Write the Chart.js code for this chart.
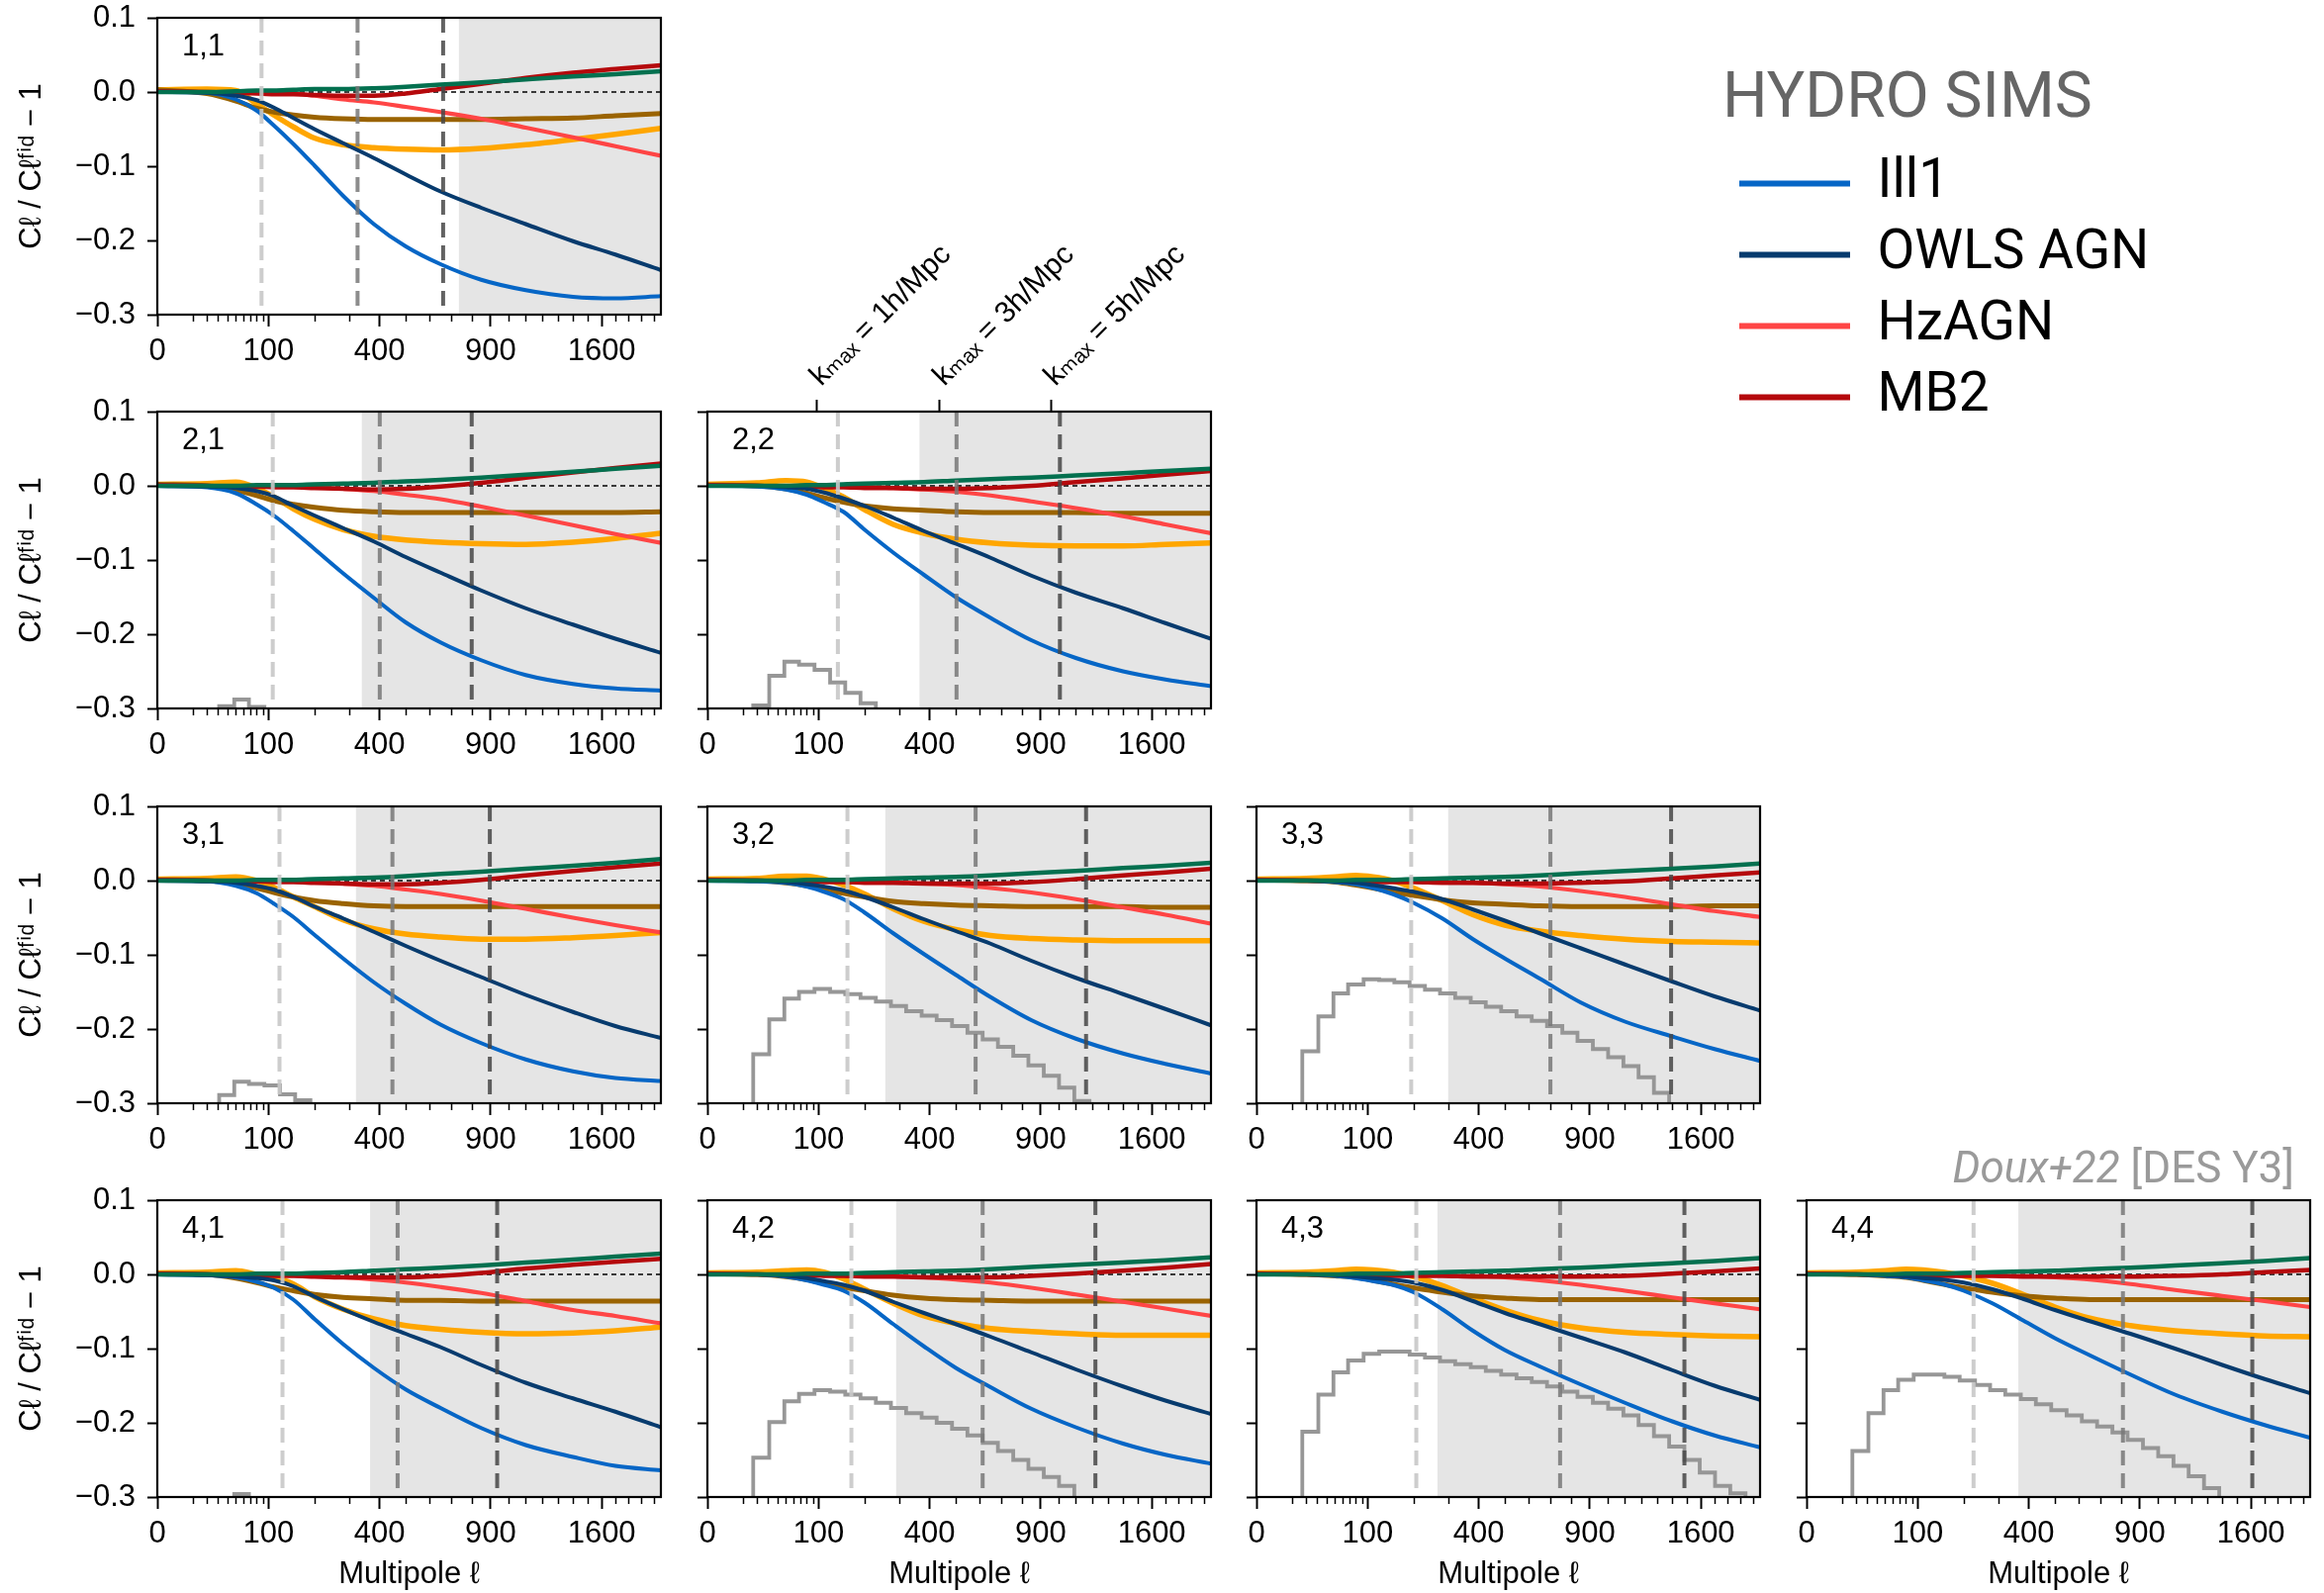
<!DOCTYPE html>
<html>
<head>
<meta charset="utf-8">
<script src="https://cdn.jsdelivr.net/npm/chart.js"></script>
<style>
  html, body { margin: 0; padding: 0; background: #fff; }
  body { width: 2349px; height: 1610px; position: relative; overflow: hidden; }
  canvas { position: absolute; }
</style>
</head>
<body>
<script>
// ---- data ----
const PANELS = ['1,1', '2,1', '2,2', '3,1', '3,2', '3,3', '4,1', '4,2', '4,3', '4,4'];
const ELL = [0, 20, 50, 80, 110, 150, 200, 280, 380, 500, 650, 850, 1100, 1400, 1700, 2055];

const ILL1 = [
  [0, -0.001, -0.010, -0.025, -0.045, -0.070, -0.099, -0.140, -0.178, -0.208, -0.232, -0.253, -0.267, -0.276, -0.278, -0.275],
  [0, -0.002, -0.010, -0.025, -0.040, -0.061, -0.085, -0.118, -0.151, -0.184, -0.211, -0.235, -0.255, -0.267, -0.273, -0.276],
  [0, -0.001, -0.005, -0.012, -0.022, -0.035, -0.059, -0.090, -0.120, -0.150, -0.178, -0.208, -0.232, -0.250, -0.261, -0.270],
  [0, -0.001, -0.007, -0.017, -0.031, -0.049, -0.073, -0.105, -0.137, -0.166, -0.194, -0.219, -0.241, -0.257, -0.266, -0.270],
  [0, -0.001, -0.003, -0.008, -0.015, -0.025, -0.043, -0.071, -0.099, -0.127, -0.157, -0.188, -0.213, -0.233, -0.247, -0.260],
  [0, 0, -0.002, -0.005, -0.010, -0.018, -0.030, -0.051, -0.079, -0.105, -0.132, -0.164, -0.190, -0.210, -0.227, -0.243],
  [0, -0.001, -0.004, -0.010, -0.018, -0.034, -0.060, -0.094, -0.126, -0.155, -0.180, -0.207, -0.230, -0.246, -0.258, -0.264],
  [0, 0, -0.003, -0.008, -0.014, -0.022, -0.038, -0.067, -0.097, -0.126, -0.152, -0.181, -0.206, -0.228, -0.243, -0.255],
  [0, 0, -0.002, -0.005, -0.009, -0.014, -0.024, -0.047, -0.076, -0.102, -0.124, -0.148, -0.173, -0.198, -0.217, -0.233],
  [0, 0, -0.002, -0.004, -0.008, -0.013, -0.022, -0.039, -0.062, -0.086, -0.109, -0.135, -0.162, -0.185, -0.203, -0.220]
];
const OWLS_AGN = [
  [0, -0.001, -0.005, -0.011, -0.021, -0.035, -0.050, -0.069, -0.089, -0.111, -0.134, -0.156, -0.178, -0.201, -0.219, -0.240],
  [0, -0.001, -0.003, -0.007, -0.014, -0.027, -0.040, -0.057, -0.075, -0.096, -0.117, -0.141, -0.165, -0.187, -0.206, -0.225],
  [0, 0, -0.002, -0.004, -0.009, -0.017, -0.027, -0.043, -0.061, -0.078, -0.097, -0.121, -0.144, -0.165, -0.185, -0.206],
  [0, -0.001, -0.003, -0.007, -0.012, -0.022, -0.035, -0.051, -0.069, -0.088, -0.108, -0.130, -0.154, -0.177, -0.196, -0.212],
  [0, 0, -0.002, -0.005, -0.008, -0.013, -0.022, -0.036, -0.052, -0.068, -0.085, -0.108, -0.131, -0.153, -0.173, -0.195],
  [0, 0, -0.001, -0.003, -0.006, -0.010, -0.015, -0.025, -0.039, -0.054, -0.071, -0.091, -0.113, -0.136, -0.156, -0.175],
  [0, -0.001, -0.003, -0.005, -0.008, -0.016, -0.030, -0.047, -0.064, -0.080, -0.098, -0.122, -0.146, -0.167, -0.185, -0.206],
  [0, 0, -0.002, -0.005, -0.009, -0.014, -0.022, -0.037, -0.052, -0.067, -0.084, -0.105, -0.128, -0.151, -0.170, -0.188],
  [0, 0, -0.001, -0.003, -0.005, -0.007, -0.011, -0.021, -0.036, -0.052, -0.067, -0.085, -0.105, -0.129, -0.150, -0.169],
  [0, 0, -0.001, -0.003, -0.005, -0.007, -0.011, -0.020, -0.033, -0.048, -0.063, -0.080, -0.100, -0.122, -0.141, -0.160]
];
const HZAGN = [
  [0, 0, 0, 0, -0.001, -0.002, -0.005, -0.010, -0.014, -0.020, -0.027, -0.036, -0.048, -0.061, -0.073, -0.086],
  [0, 0, 0, 0, 0, -0.001, -0.002, -0.004, -0.007, -0.012, -0.018, -0.028, -0.040, -0.053, -0.065, -0.077],
  [0, 0, 0, 0, 0, -0.001, -0.001, -0.003, -0.005, -0.008, -0.013, -0.021, -0.030, -0.041, -0.052, -0.064],
  [0, 0, 0, 0, 0, -0.001, -0.002, -0.004, -0.007, -0.012, -0.018, -0.027, -0.038, -0.050, -0.060, -0.070],
  [0, 0, 0, 0, 0, 0, -0.001, -0.002, -0.004, -0.006, -0.010, -0.016, -0.025, -0.036, -0.046, -0.058],
  [0, 0, 0, 0, 0, 0, -0.001, -0.002, -0.003, -0.005, -0.008, -0.014, -0.022, -0.032, -0.041, -0.049],
  [0, 0, 0, 0, 0, -0.001, -0.002, -0.004, -0.007, -0.011, -0.017, -0.025, -0.036, -0.048, -0.056, -0.066],
  [0, 0, 0, 0, 0, 0, -0.001, -0.002, -0.004, -0.007, -0.011, -0.018, -0.027, -0.037, -0.046, -0.056],
  [0, 0, 0, 0, 0, 0, 0, -0.001, -0.002, -0.004, -0.008, -0.014, -0.022, -0.031, -0.039, -0.047],
  [0, 0, 0, 0, 0, 0, 0, -0.001, -0.002, -0.004, -0.007, -0.013, -0.021, -0.029, -0.036, -0.044]
];
const MB2 = [
  [0.001, 0, -0.001, -0.002, -0.003, -0.003, -0.004, -0.005, -0.005, -0.002, 0.004, 0.011, 0.019, 0.026, 0.031, 0.036],
  [0.001, 0, -0.001, -0.001, -0.002, -0.002, -0.003, -0.004, -0.005, -0.004, -0.001, 0.004, 0.011, 0.018, 0.024, 0.030],
  [0.001, 0, -0.001, -0.001, -0.002, -0.002, -0.003, -0.003, -0.004, -0.004, -0.003, 0.000, 0.005, 0.010, 0.015, 0.020],
  [0.001, 0, -0.001, -0.001, -0.002, -0.002, -0.003, -0.004, -0.005, -0.005, -0.003, 0.001, 0.007, 0.013, 0.018, 0.023],
  [0.001, 0, -0.001, -0.001, -0.002, -0.002, -0.003, -0.003, -0.004, -0.004, -0.004, -0.002, 0.002, 0.007, 0.011, 0.016],
  [0.001, 0, -0.001, -0.001, -0.002, -0.002, -0.002, -0.003, -0.003, -0.004, -0.004, -0.003, -0.001, 0.003, 0.007, 0.011],
  [0.001, 0, -0.001, -0.001, -0.002, -0.002, -0.003, -0.004, -0.004, -0.004, -0.002, 0.002, 0.008, 0.013, 0.017, 0.021],
  [0.001, 0, -0.001, -0.001, -0.002, -0.002, -0.003, -0.003, -0.004, -0.004, -0.004, -0.002, 0.001, 0.005, 0.009, 0.014],
  [0.001, 0, -0.001, -0.001, -0.001, -0.002, -0.002, -0.002, -0.003, -0.003, -0.003, -0.003, -0.002, 0.001, 0.004, 0.008],
  [0.001, 0, -0.001, -0.001, -0.001, -0.002, -0.002, -0.002, -0.003, -0.003, -0.003, -0.003, -0.002, 0.000, 0.003, 0.006]
];
const GREEN_SIM = [
  [0, 0, 0.001, 0.002, 0.002, 0.003, 0.004, 0.004, 0.005, 0.007, 0.010, 0.013, 0.017, 0.021, 0.024, 0.028],
  [0, 0, 0, 0.001, 0.001, 0.001, 0.002, 0.003, 0.004, 0.006, 0.008, 0.011, 0.015, 0.019, 0.023, 0.027],
  [0, 0, 0, 0.001, 0.001, 0.002, 0.003, 0.004, 0.005, 0.007, 0.009, 0.011, 0.014, 0.017, 0.020, 0.023],
  [0, 0, 0, 0.001, 0.001, 0.001, 0.002, 0.003, 0.004, 0.006, 0.009, 0.012, 0.016, 0.020, 0.024, 0.029],
  [0, 0, 0, 0.001, 0.001, 0.001, 0.002, 0.003, 0.004, 0.005, 0.007, 0.010, 0.013, 0.017, 0.020, 0.024],
  [0, 0, 0, 0.001, 0.001, 0.001, 0.002, 0.003, 0.004, 0.005, 0.007, 0.010, 0.013, 0.016, 0.019, 0.023],
  [0, 0, 0, 0.001, 0.001, 0.001, 0.002, 0.003, 0.005, 0.007, 0.009, 0.012, 0.016, 0.020, 0.024, 0.028],
  [0, 0, 0, 0.001, 0.001, 0.001, 0.002, 0.003, 0.004, 0.005, 0.007, 0.010, 0.013, 0.016, 0.019, 0.023],
  [0, 0, 0, 0.001, 0.001, 0.001, 0.002, 0.003, 0.004, 0.005, 0.007, 0.009, 0.012, 0.015, 0.018, 0.022],
  [0, 0, 0, 0.001, 0.001, 0.001, 0.002, 0.003, 0.004, 0.005, 0.007, 0.009, 0.012, 0.015, 0.018, 0.022]
];
const ORANGE_SIM = [
  [0.003, 0.004, 0.002, -0.016, -0.031, -0.047, -0.062, -0.071, -0.075, -0.077, -0.078, -0.076, -0.071, -0.064, -0.057, -0.049],
  [0.002, 0.003, 0.005, -0.003, -0.015, -0.031, -0.045, -0.059, -0.068, -0.073, -0.076, -0.078, -0.079, -0.076, -0.071, -0.064],
  [0.002, 0.004, 0.007, 0.005, -0.003, -0.015, -0.032, -0.052, -0.064, -0.072, -0.077, -0.080, -0.081, -0.081, -0.079, -0.077],
  [0.002, 0.003, 0.005, 0.000, -0.009, -0.022, -0.035, -0.053, -0.065, -0.072, -0.076, -0.079, -0.079, -0.077, -0.074, -0.070],
  [0.002, 0.003, 0.006, 0.006, 0.002, -0.006, -0.018, -0.038, -0.055, -0.066, -0.074, -0.078, -0.080, -0.081, -0.081, -0.081],
  [0.002, 0.003, 0.005, 0.007, 0.005, 0.000, -0.010, -0.027, -0.046, -0.060, -0.068, -0.074, -0.079, -0.082, -0.083, -0.084],
  [0.002, 0.003, 0.005, 0.000, -0.004, -0.013, -0.030, -0.047, -0.060, -0.069, -0.074, -0.078, -0.080, -0.079, -0.076, -0.071],
  [0.002, 0.003, 0.005, 0.006, 0.003, -0.006, -0.020, -0.039, -0.056, -0.066, -0.073, -0.077, -0.080, -0.082, -0.082, -0.082],
  [0.002, 0.003, 0.005, 0.007, 0.006, 0.003, -0.003, -0.015, -0.032, -0.048, -0.062, -0.072, -0.078, -0.081, -0.083, -0.084],
  [0.002, 0.003, 0.005, 0.007, 0.006, 0.003, -0.002, -0.012, -0.027, -0.044, -0.059, -0.069, -0.076, -0.080, -0.083, -0.084]
];
const BROWN_SIM = [
  [0.003, -0.002, -0.012, -0.022, -0.027, -0.031, -0.034, -0.036, -0.037, -0.037, -0.037, -0.037, -0.036, -0.035, -0.032, -0.029],
  [0.002, 0.000, -0.006, -0.013, -0.020, -0.025, -0.029, -0.033, -0.035, -0.036, -0.036, -0.036, -0.036, -0.036, -0.036, -0.035],
  [0.001, 0.000, -0.004, -0.010, -0.016, -0.022, -0.027, -0.031, -0.033, -0.035, -0.036, -0.036, -0.036, -0.037, -0.037, -0.037],
  [0.001, 0.000, -0.004, -0.010, -0.016, -0.022, -0.027, -0.031, -0.034, -0.035, -0.035, -0.035, -0.035, -0.035, -0.035, -0.035],
  [0.001, 0.000, -0.003, -0.007, -0.012, -0.017, -0.022, -0.028, -0.031, -0.033, -0.034, -0.035, -0.035, -0.035, -0.036, -0.036],
  [0.001, 0.000, -0.002, -0.006, -0.010, -0.015, -0.020, -0.026, -0.030, -0.032, -0.034, -0.035, -0.035, -0.035, -0.034, -0.034],
  [0.001, 0.000, -0.005, -0.011, -0.017, -0.022, -0.027, -0.031, -0.033, -0.035, -0.035, -0.036, -0.036, -0.036, -0.036, -0.036],
  [0.001, 0.000, -0.003, -0.007, -0.012, -0.017, -0.022, -0.028, -0.032, -0.034, -0.035, -0.036, -0.036, -0.036, -0.036, -0.036],
  [0.001, 0.000, -0.002, -0.004, -0.008, -0.013, -0.018, -0.024, -0.029, -0.032, -0.034, -0.034, -0.034, -0.034, -0.034, -0.034],
  [0.001, 0.000, -0.002, -0.004, -0.008, -0.013, -0.018, -0.024, -0.029, -0.032, -0.034, -0.034, -0.034, -0.034, -0.034, -0.034]
];

// scale cuts (vertical dashed lines) and excluded range start, per panel
const KMAX1 = [88, 108, 138, 121, 159, 194, 127, 168, 207, 226];
const KMAX3 = [325, 401, 503, 448, 583, 700, 468, 614, 747, 811];
const KMAX5 = [662, 801, 1007, 896, 1162, 1393, 936, 1220, 1484, 1610];
const SHADE_FROM = [736, 338, 364, 319, 256, 297, 367, 288, 265, 363];

// grey step histograms: bin edges and heights per panel
const HIST_EDGES = [17, 31, 48, 68, 93, 122, 154, 190, 230, 273, 320, 372, 426, 485, 548, 614, 684, 758, 835, 917, 1002, 1091, 1183, 1280, 1380, 1484, 1592, 1704, 1819, 1938, 2061];
const HIST = [
  [],
  [-0.35, -0.297, -0.288, -0.298],
  [-0.296, -0.256, -0.237, -0.241, -0.248, -0.265, -0.279, -0.293],
  [-0.35, -0.289, -0.271, -0.274, -0.276, -0.288, -0.296],
  [-0.234, -0.187, -0.159, -0.150, -0.146, -0.150, -0.153, -0.158, -0.163, -0.169, -0.176, -0.182, -0.188, -0.196, -0.205, -0.214, -0.224, -0.236, -0.249, -0.263, -0.279, -0.297],
  [-0.230, -0.183, -0.152, -0.140, -0.133, -0.134, -0.137, -0.142, -0.147, -0.152, -0.158, -0.164, -0.170, -0.176, -0.183, -0.189, -0.196, -0.205, -0.216, -0.227, -0.238, -0.250, -0.265, -0.286],
  [-0.35, -0.35, -0.296],
  [-0.247, -0.199, -0.171, -0.161, -0.156, -0.158, -0.162, -0.167, -0.173, -0.180, -0.187, -0.193, -0.200, -0.208, -0.217, -0.227, -0.238, -0.250, -0.262, -0.273, -0.285],
  [-0.212, -0.162, -0.132, -0.116, -0.107, -0.104, -0.104, -0.108, -0.112, -0.117, -0.121, -0.125, -0.130, -0.135, -0.140, -0.145, -0.151, -0.158, -0.165, -0.173, -0.181, -0.190, -0.203, -0.218, -0.232, -0.250, -0.267, -0.285, -0.295],
  [-0.238, -0.187, -0.156, -0.142, -0.135, -0.135, -0.138, -0.143, -0.149, -0.156, -0.162, -0.168, -0.175, -0.183, -0.190, -0.198, -0.205, -0.213, -0.223, -0.234, -0.245, -0.258, -0.272, -0.288]
];

const X_MAX = 2055;
const X_TICKS = [0, 100, 400, 900, 1600];
const X_MINOR = [10, 20, 30, 40, 50, 60, 70, 80, 90, 200, 300, 500, 600, 700, 800, 1000, 1100, 1200, 1300, 1400, 1500, 1700, 1800, 1900, 2000];
const Y_TICKS = [-0.3, -0.2, -0.1, 0, 0.1];
const KMAX_TICKS = [97, 438, 957];
const KMAX_LABELS = ['kₘₐₓ = 1h/Mpc', 'kₘₐₓ = 3h/Mpc', 'kₘₐₓ = 5h/Mpc'];

const LEGEND_NAMES = ['Ill1', 'OWLS AGN', 'HzAGN', 'MB2'];
const LEGEND_COLORS = ['#0666c6', '#073b6e', '#ff4545', '#b5090c'];

// ---- layout ----
const COL_LEFT = [159, 715, 1270, 1826];
const ROW_TOP = [18, 416, 815, 1213];
const PW = 509, PH = 300;
const FONT = "'Liberation Sans', 'DejaVu Sans', sans-serif";

// square-root axis, like matplotlib's 'squareroot' scale
class SqrtScale extends Chart.LinearScale {
  getPixelForValue(value) {
    const a = Math.sqrt(this.min), b = Math.sqrt(this.max);
    return this.getPixelForDecimal((Math.sqrt(Math.max(value, 0)) - a) / (b - a));
  }
  getValueForPixel(pixel) {
    const a = Math.sqrt(this.min), b = Math.sqrt(this.max);
    const s = a + this.getDecimalForPixel(pixel) * (b - a);
    return s * s;
  }
}
SqrtScale.id = 'sqrt';
SqrtScale.defaults = {};
Chart.register(SqrtScale);

const CURVES = [
  { vals: GREEN_SIM, color: '#03704f', width: 4.5, order: 1 },
  { vals: OWLS_AGN, color: '#073b6e', width: 4, order: 2 },
  { vals: ILL1, color: '#0666c6', width: 4, order: 3 },
  { vals: MB2, color: '#b5090c', width: 4.5, order: 4 },
  { vals: HZAGN, color: '#ff4545', width: 4.2, order: 5 },
  { vals: BROWN_SIM, color: '#9a6300', width: 5, order: 6 },
  { vals: ORANGE_SIM, color: '#ffa600', width: 5.5, order: 7 }
];

function noPad(s) {
  s.paddingTop = 0; s.paddingBottom = 0; s.paddingLeft = 0; s.paddingRight = 0;
}

const panelDecor = {
  id: 'panelDecor',
  afterDatasetsDraw(chart, args, opts) {
    const a = chart.chartArea, ctx = chart.ctx, xs = chart.scales.x;
    ctx.save();
    // minor ticks on the square-root axis
    ctx.strokeStyle = '#000';
    ctx.lineWidth = 1.5;
    X_MINOR.forEach(v => {
      const px = Math.round(xs.getPixelForValue(v)) + 0.5;
      ctx.beginPath();
      ctx.moveTo(px, a.bottom);
      ctx.lineTo(px, a.bottom + 7);
      ctx.stroke();
    });
    // frame
    ctx.lineWidth = 2.2;
    ctx.strokeRect(a.left, a.top, a.right - a.left, a.bottom - a.top);
    // panel tag
    ctx.fillStyle = '#000';
    ctx.font = '31px ' + FONT;
    ctx.textBaseline = 'middle';
    ctx.fillText(opts.tag, a.left + 25, a.top + 29);
    if (opts.credit) {
      const reg = "44px Roboto, 'Open Sans', sans-serif";
      const ita = "italic 44px Roboto, 'Open Sans', sans-serif";
      ctx.fillStyle = '#9a9a9a';
      ctx.textBaseline = 'alphabetic';
      ctx.font = reg;
      const w2 = ctx.measureText(' [DES Y3]').width;
      ctx.fillText(' [DES Y3]', a.right - 16 - w2, a.top - 18);
      ctx.font = ita;
      const w1 = ctx.measureText('Doux+22').width;
      ctx.fillText('Doux+22', a.right - 16 - w2 - w1, a.top - 18);
    }
    ctx.restore();
  }
};

function buildPanel(i) {
  const id = PANELS[i];
  const r = +id[0] - 1, c = +id[2] - 1;
  const padL = c === 0 ? 159 : 20;
  const padT = id === '2,2' ? 200 : (id === '4,4' ? 110 : 20);
  const padR = 20;
  const padB = r === 3 ? 100 : 60;

  const cv = document.createElement('canvas');
  cv.width = padL + PW + padR;
  cv.height = padT + PH + padB;
  cv.style.left = (COL_LEFT[c] - padL) + 'px';
  cv.style.top = (ROW_TOP[r] - padT) + 'px';
  document.body.appendChild(cv);

  const datasets = [];
  datasets.push({
    data: [{ x: SHADE_FROM[i], y: 0.1 }, { x: X_MAX, y: 0.1 }],
    fill: { value: -0.3 }, backgroundColor: '#e5e5e5', borderWidth: 0, order: 100
  });
  const h = HIST[i];
  if (h.length) {
    const pts = [{ x: 5, y: -0.4 }];
    h.forEach((v, k) => pts.push({ x: HIST_EDGES[k], y: v }));
    pts.push({ x: HIST_EDGES[h.length], y: -0.4 });
    datasets.push({ data: pts, stepped: 'before', borderColor: 'rgba(145,145,145,0.95)', borderWidth: 3.8, order: 9 });
  }
  datasets.push({
    data: [{ x: 0, y: 0 }, { x: X_MAX, y: 0 }],
    borderColor: '#000', borderWidth: 1.6, borderDash: [5, 4], order: 8
  });
  CURVES.forEach(s => {
    datasets.push({
      data: ELL.map((x, k) => ({ x, y: s.vals[i][k] })),
      borderColor: s.color, borderWidth: s.width, cubicInterpolationMode: 'monotone', order: s.order
    });
  });
  [[KMAX1, 'rgba(200,200,200,0.9)'], [KMAX3, 'rgba(120,120,120,0.85)'], [KMAX5, 'rgba(70,70,70,0.85)']].forEach(([arr, col]) => {
    datasets.push({
      data: [{ x: arr[i], y: 0.1 }, { x: arr[i], y: -0.3 }],
      borderColor: col, borderWidth: 4, borderDash: [15, 8], order: 0
    });
  });

  const tickFont = { family: FONT, size: 31 };
  const scales = {
    x: {
      type: 'sqrt', position: 'bottom', min: 0, max: X_MAX,
      afterBuildTicks: s => { s.ticks = X_TICKS.map(v => ({ value: v })); },
      afterFit: s => { s.height = padB; noPad(s); },
      grid: { drawOnChartArea: false, tickLength: 12, tickWidth: 2, tickColor: '#000' },
      border: { display: false },
      ticks: { autoSkip: false, maxRotation: 0, padding: 7, color: '#000', font: tickFont, callback: v => String(v) },
      title: { display: r === 3, text: 'Multipole ℓ', color: '#000', font: tickFont, padding: { top: 0, bottom: 3 } }
    },
    y: {
      min: -0.3, max: 0.1,
      afterBuildTicks: s => { s.ticks = Y_TICKS.map(v => ({ value: v })); },
      afterFit: s => { s.width = padL; noPad(s); },
      grid: { drawOnChartArea: false, tickLength: 10, tickWidth: 2, tickColor: '#000' },
      border: { display: false },
      ticks: { display: c === 0, padding: 12, color: '#000', font: tickFont,
        callback: v => (v < 0 ? '−' : '') + Math.abs(v).toFixed(1) },
      title: { display: c === 0, text: 'Cℓ / Cℓᶠⁱᵈ − 1', color: '#000', font: tickFont, padding: { top: 14, bottom: 0 } }
    }
  };
  if (id === '2,2') {
    scales.x2 = {
      type: 'sqrt', position: 'top', min: 0, max: X_MAX,
      afterBuildTicks: s => { s.ticks = KMAX_TICKS.map(v => ({ value: v })); },
      afterFit: s => { s.height = padT; noPad(s); },
      grid: { drawOnChartArea: false, tickLength: 12, tickWidth: 2, tickColor: '#000' },
      border: { display: false },
      ticks: { autoSkip: false, minRotation: 45, maxRotation: 45, padding: 6, labelOffset: 24, color: '#000',
        font: { family: FONT, size: 30 }, callback: (v, k) => KMAX_LABELS[k] }
    };
  }

  new Chart(cv, {
    type: 'line',
    data: { datasets },
    options: {
      responsive: false, animation: false, devicePixelRatio: 1, events: [],
      layout: { autoPadding: false, padding: { top: id === '2,2' ? 0 : padT, right: padR, left: 0, bottom: 0 } },
      elements: { point: { radius: 0 }, line: { borderCapStyle: 'butt' } },
      scales,
      plugins: {
        legend: { display: false }, tooltip: { enabled: false },
        panelDecor: { tag: id, credit: id === '4,4' }
      }
    },
    plugins: [panelDecor]
  });
}

PANELS.forEach((id, i) => buildPanel(i));

// legend block
(function () {
  const cv = document.createElement('canvas');
  cv.width = 460; cv.height = 800;
  cv.style.left = '1741px'; cv.style.top = '70px';
  document.body.appendChild(cv);
  new Chart(cv, {
    type: 'line',
    data: {
      datasets: LEGEND_NAMES.map((n, k) => ({
        label: n, data: [], borderColor: LEGEND_COLORS[k], backgroundColor: LEGEND_COLORS[k], borderWidth: 0
      }))
    },
    options: {
      responsive: false, animation: false, devicePixelRatio: 1, events: [],
      scales: { x: { display: false }, y: { display: false } },
      plugins: {
        tooltip: { enabled: false },
        legend: {
          position: 'top', align: 'start', maxHeight: 800,
          title: { display: true, text: 'HYDRO SIMS', position: 'start', color: '#666',
            font: { family: 'Roboto', size: 64, lineHeight: 1 }, padding: { top: 0, bottom: 7 } },
          labels: { boxWidth: 112, boxHeight: 6, padding: 17, color: '#000',
            font: { family: 'Roboto', size: 55 } }
        }
      }
    }
  });
})();
</script>
</body>
</html>
